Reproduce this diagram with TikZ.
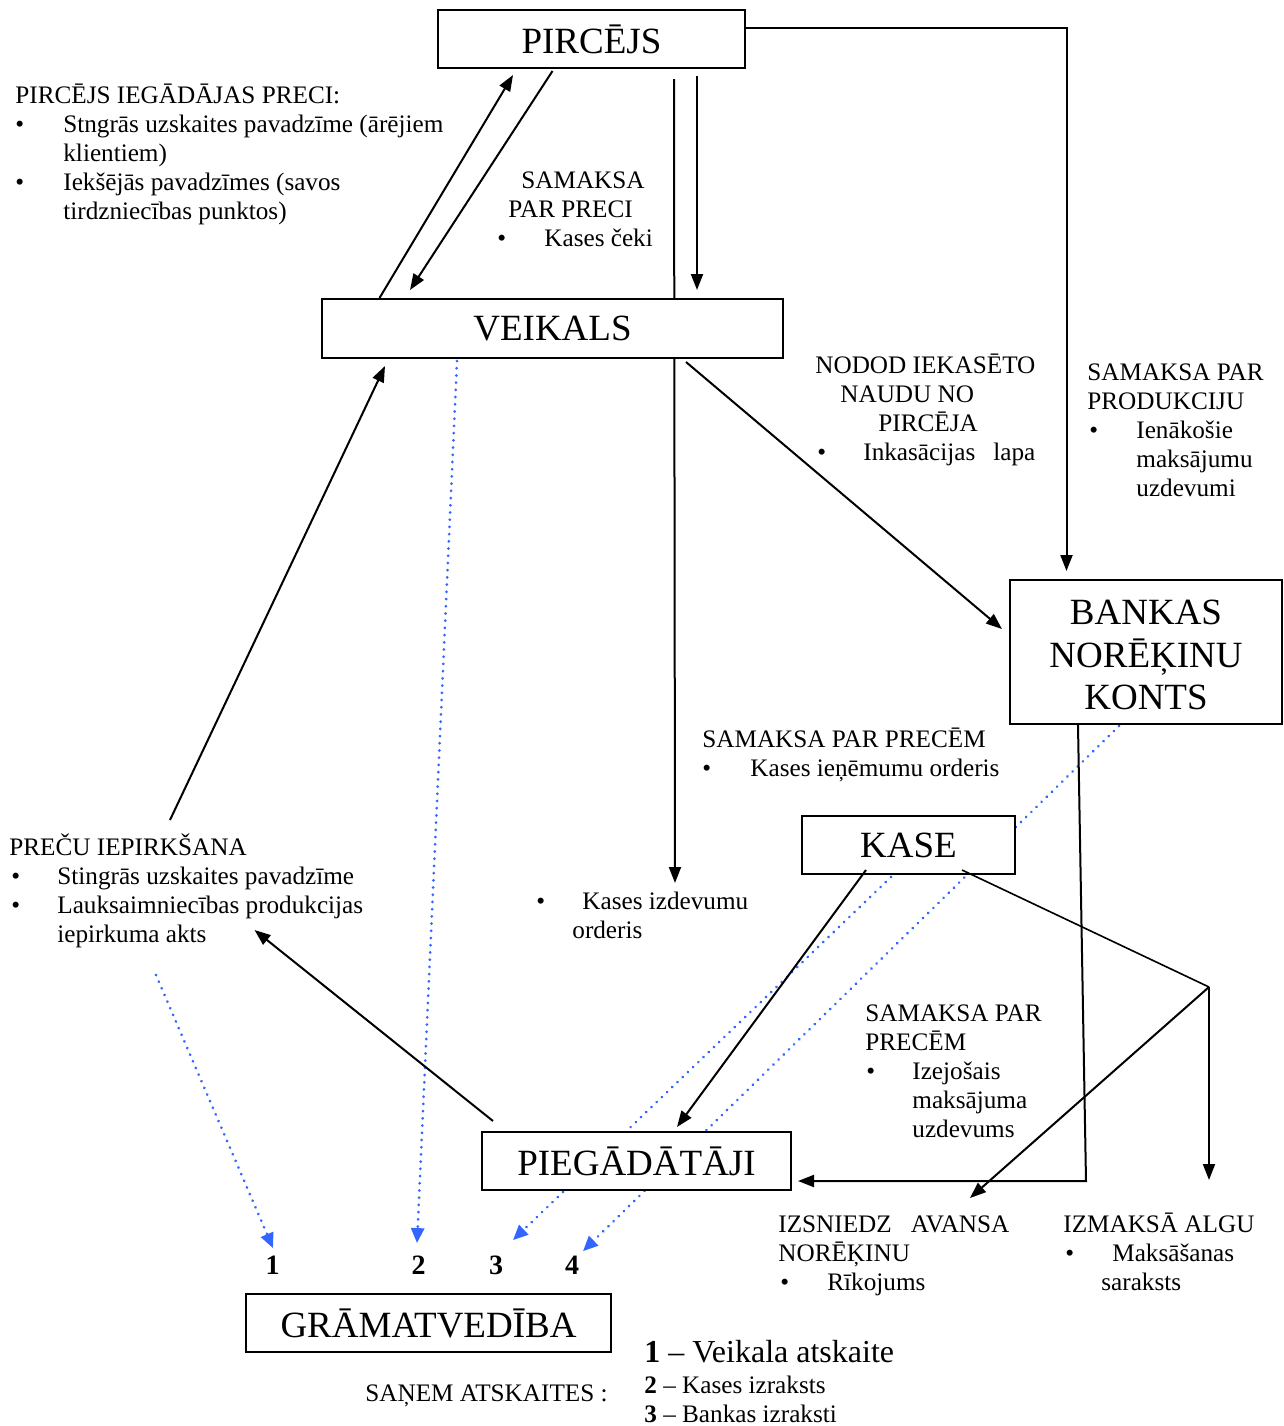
\documentclass[tikz,border=0pt]{standalone}
\usepackage{fontspec}
\setmainfont{Liberation Serif}
\usetikzlibrary{arrows.meta,calc,backgrounds}
\definecolor{repblue}{RGB}{51,102,255}
\newlength\px
\setlength\px{0.5pt}
\newcommand{\itembul}[1]{\makebox[#1][l]{\textbullet}}
\newcommand{\txtblk}[1]{\begin{tabular}[t]{@{}l@{}}#1\end{tabular}}

\begin{document}
\begin{tikzpicture}[x=0.5pt,y=-0.5pt,
 box/.style={draw,line width=1pt,fill=white,inner sep=0pt,align=center,font=\fontsize{18.5}{21.25}\selectfont},
 txt/.style={inner sep=0pt,anchor=base west,font=\fontsize{12.6}{14.5}\selectfont},
 num/.style={inner sep=0pt,anchor=base,font=\fontsize{14}{14}\selectfont\bfseries},
 arr/.style={line width=1pt,-{Triangle[length=8pt,width=6pt]}},
 ln/.style={line width=0.8pt},
 rep/.style={repblue,line width=1.5pt,line cap=round,dash pattern=on 0.01pt off 3.6pt,-{Triangle[length=7.5pt,width=6.5pt]}}]
\useasboundingbox (0,0) rectangle (1284,1426);

\node[box,minimum width=153.5pt,minimum height=29pt] (pircejs) at (591.5,39) {PIRCĒJS};
\node[box,minimum width=230.5pt,minimum height=29.5pt] (veikals) at (552.5,328.5) {VEIKALS};
\node[box,minimum width=136pt,minimum height=72pt] (banka) at (1146,652) {\raisebox{-3.3pt}[\height][\depth]{\begin{tabular}{@{}c@{}}BANKAS\\NORĒĶINU\\KONTS\end{tabular}}};
\node[box,minimum width=106.5pt,minimum height=29pt] (kase) at (908.5,845) {KASE};
\node[box,minimum width=154.5pt,minimum height=29pt] (pieg) at (636.5,1161) {PIEGĀDĀTĀJI};
\node[box,minimum width=182.5pt,minimum height=29pt] (gram) at (428.5,1323) {GRĀMATVEDĪBA};

\node[txt] (pirk) at (15,103) {\txtblk{PIRCĒJS IEGĀDĀJAS PRECI:\\
 \itembul{48\px}Stngrās uzskaites pavadzīme (ārējiem\\
 \hspace*{48\px}klientiem)\\
 \itembul{48\px}Iekšējās pavadzīmes (savos\\
 \hspace*{48\px}tirdzniecības punktos)}};
\node[txt] (samprec) at (497,188) {\txtblk{\hspace*{24\px}SAMAKSA\\
 \hspace*{11\px}PAR PRECI\\
 \itembul{47\px}Kases čeki}};
\node[txt] (nodod) at (815,373) {\txtblk{NODOD IEKASĒTO\\
 \hspace*{25\px}NAUDU NO\\
 \hspace*{63\px}PIRCĒJA\\
 \hspace*{2\px}\itembul{46\px}\makebox[172\px][l]{Inkasācijas\hfill lapa}}};
\node[txt] (samprod) at (1087,380) {\txtblk{SAMAKSA PAR\\
 PRODUKCIJU\\
 \hspace*{2\px}\itembul{47\px}Ienākošie\\
 \hspace*{49\px}maksājumu\\
 \hspace*{49\px}uzdevumi}};
\node[txt] (samkase) at (702,747) {\txtblk{SAMAKSA PAR PRECĒM\\
 \itembul{48\px}Kases ieņēmumu orderis}};
\node[txt] (prec) at (9,855) {\txtblk{PREČU IEPIRKŠANA\\
 \hspace*{2\px}\itembul{46\px}Stingrās uzskaites pavadzīme\\
 \hspace*{2\px}\itembul{46\px}Lauksaimniecības produkcijas\\
 \hspace*{48\px}iepirkuma akts}};
\node[txt] (kizd) at (536,909) {\txtblk{\itembul{46\px}Kases izdevumu\\
 \hspace*{36\px}orderis}};
\node[txt] (samkred) at (865,1021) {\txtblk{SAMAKSA PAR\\
 PRECĒM\\
 \hspace*{1\px}\itembul{46\px}Izejošais\\
 \hspace*{47\px}maksājuma\\
 \hspace*{47\px}uzdevums}};
\node[txt] (izsn) at (778,1232) {\txtblk{\makebox[231\px][l]{IZSNIEDZ\hfill AVANSA}\\
 NORĒĶINU\\
 \hspace*{2\px}\itembul{47\px}Rīkojums}};
\node[txt] (izm) at (1063,1232) {\txtblk{IZMAKSĀ ALGU\\
 \hspace*{2\px}\itembul{47\px}Maksāšanas\\
 \hspace*{38\px}saraksts}};
\node[txt] (san) at (365,1401) {SAŅEM ATSKAITES :};
\node[txt] (leg) at (644,1362) {\txtblk{{\fontsize{16}{18}\selectfont\textbf{1} – Veikala atskaite}\\[1pt]
 \textbf{2} – Kases izraksts\\
 \textbf{3} – Bankas izraksti}};

\node[num] (n1) at (272.5,1274) {1};
\node[num] (n2) at (418.5,1274) {2};
\node[num] (n3) at (496,1274) {3};
\node[num] (n4) at (572,1274) {4};

\begin{scope}[on background layer]
\draw[arr] ($(pircejs.south west)+(237,10)$) -- ($(kizd.base west)+(139,-26)$);
\draw[rep] ($(prec.base west)+(147,120)$) -- ($(n1.north)+(0.5,-7)$);
\draw[rep] ($(veikals.south)+(-95.5,2)$) -- ($(n2.north)+(-1.5,-12)$);
\draw[rep] ($(kase.south)+(-17.5,2)$) -- ($(n3.north)+(17,-15)$);
\draw[rep] ($(banka.south)+(-27,1)$) -- ($(n4.north)+(11,-4)$);
\end{scope}

\draw[arr] ($(veikals.north west)+(58.5,0)$) -- ($(pircejs.south west)+(76,6)$);
\draw[arr] ($(pircejs.south west)+(115.5,2)$) -- ($(veikals.north west)+(89,-8)$);
\draw[arr] ($(pircejs.south west)+(260,7)$) -- ($(veikals.north west)+(376,-8)$);
\draw[arr] ($(pircejs.north east)+(0,19)$) -| ($(banka.north west)+(57.5,-8)$);
\draw[arr] ($(veikals.south west)+(365,3)$) -- ($(banka.north west)+(-7,50)$);
\draw[arr] ($(prec.base west)+(161,-35)$) -- ($(veikals.south west)+(64,7)$);
\draw[arr] ($(pieg.north west)+(12,-10)$) -- ($(prec.base west)+(245.5,75)$);
\draw[arr] ($(kase.south west)+(65,-5)$) -- ($(pieg.north west)+(196,-4)$);
\coordinate (j) at ($(izm.base west)+(146,-245)$);
\draw[ln] ($(kase.south west)+(161,-5)$) -- (j);
\draw[arr] (j) -- ($(izm.base west)+(146,-52)$);
\draw[arr] (j) -- ($(izsn.base west)+(192,-34)$);
\draw[arr] ($(banka.south west)+(69,0)$) -- ($(pieg.south east)+(294,-10)$) -- ($(pieg.south east)+(6,-10)$);
\end{tikzpicture}
\end{document}
